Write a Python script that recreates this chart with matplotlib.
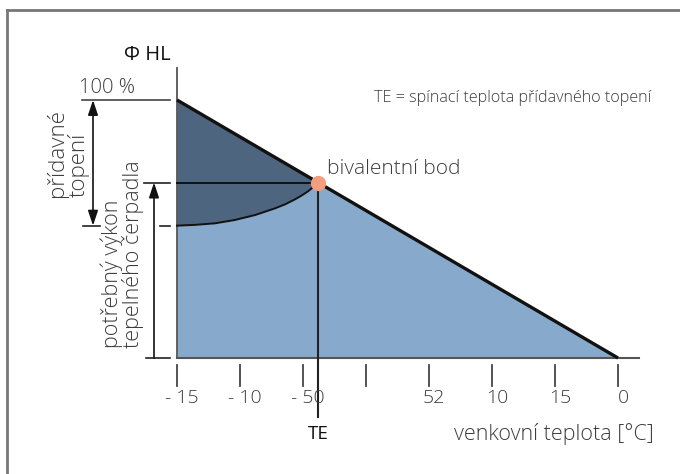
import matplotlib
matplotlib.use("Agg")
import matplotlib.pyplot as plt
import numpy as np

plt.rcParams['font.family'] = ['Open Sans', 'DejaVu Sans']

# -- data --
temps = [-15, -10, -5, 0, 5, 10, 15, 20]
tick_labels = ["- 15", "- 10", "- 50", "", "52", "10", "15", "0"]
load_x = [-15, 20]            # heating load line (%)
load_y = [100, 0]
# heat pump output curve
hp_x = [-15, -13.57, -11.98, -10.40, -8.81, -7.22, -6.4, -5.63, -5.1, -4.60, -4.2, -3.8]
hp_y = [51.3, 51.6, 52.2, 53.5, 55.4, 58.0, 59.6, 61.5, 63.0, 64.6, 66.2, 68.0]
biv_x, biv_y = -3.8, 68.0

W, H = 680, 474
dark = "#4d657e"
light = "#86a9cc"
txt = "#3c3c3c"

# pixel -> data helpers (layout only)
def px(p):
    return -15 + (p - 177) * 35 / 441

def py(p):
    return (358 - p) * 100 / 258

fig = plt.figure(figsize=(W / 100, H / 100), dpi=100)
ax = fig.add_axes([0, 0, 1, 1])
ax.set_xlim(px(0), px(W))
ax.set_ylim(py(H), py(0))
ax.axis("off")

# frame
ax.plot([px(7), px(W)], [py(10), py(10)], color="#777777", lw=2)
ax.plot([px(7), px(7)], [py(10), py(H)], color="#777777", lw=2)

# fills
load_at_hp = np.interp(hp_x, load_x, load_y)
ax.fill_between(hp_x, hp_y, load_at_hp, color=dark, lw=0)
fx = hp_x + [load_x[1]]
fy = hp_y + [0]
ax.fill_between(fx, 0, fy, color=light, lw=0)

# axes lines
ax.plot([-15, -15], [0, py(68)], color="#555555", lw=1.3)
ax.plot([-15, px(639)], [0, 0], color="#555555", lw=1.5)

# curves
ax.plot(load_x, load_y, color="#111111", lw=2.4, solid_capstyle="butt")
ax.plot(hp_x, hp_y, color="#111111", lw=1.4)
ax.plot([-15, biv_x], [biv_y, biv_y], color="#111111", lw=1.4)
ax.plot([biv_x, biv_x], [biv_y, py(417)], color="#222222", lw=1.5)
ax.plot(biv_x, biv_y, "o", color="#f49d7f", ms=10, zorder=5)

# ticks
for t, lab in zip(temps, tick_labels):
    ax.plot([t, t], [py(365), py(386)], color="#444444", lw=1.3)
    ax.text(t + px(182) - px(177), py(398), lab, ha="center", va="center",
            fontsize=14, color=txt, fontweight="light")

ax.text(biv_x, py(434), "TE", ha="center", va="center", fontsize=13.5,
        color="#111111", fontweight="medium")
ax.text(px(654), py(434), "venkovní teplota [°C]", ha="right", va="center",
        fontsize=15.5, color=txt, fontweight="light")
ax.text(px(327), py(169), "bivalentní bod", ha="left", va="center",
        fontsize=15, color=txt, fontweight="light")
ax.text(px(651), py(98), "TE = spínací teplota přídavného topení", ha="right",
        va="center", fontsize=11.6, color=txt, fontweight="light")
ax.text(px(171), py(55), "Φ HL", ha="right", va="center", fontsize=14.5,
        color="#111111")
ax.text(px(79), py(88), "100 %", ha="left", va="center", fontsize=14.5,
        color=txt, fontweight="light")

# left dimension lines
ax.plot([px(82), px(170)], [100, 100], color="#444444", lw=1.2)
ax.plot([px(83), px(100)], [hp_y[0], hp_y[0]], color="#222222", lw=1.2)
ax.plot([px(160), px(170)], [hp_y[0], hp_y[0]], color="#222222", lw=1.2)
ax.plot([px(144), px(170)], [biv_y, biv_y], color="#222222", lw=1.2)
ax.plot([px(146), px(170)], [0, 0], color="#222222", lw=1.2)

ax.annotate("", xy=(px(93), 100), xytext=(px(93), hp_y[0]),
            arrowprops=dict(arrowstyle="<|-|>,head_length=0.9,head_width=0.3",
                            color="#111111", lw=1.2, shrinkA=0, shrinkB=0))
ax.annotate("", xy=(px(154), biv_y), xytext=(px(154), 0),
            arrowprops=dict(arrowstyle="-|>,head_length=0.9,head_width=0.3",
                            color="#111111", lw=1.2, shrinkA=0, shrinkB=0))

ax.text(px(68), py(197), "přídavné\ntopení", rotation=90, ha="left",
        va="center", multialignment="left", fontsize=16, color=txt,
        fontweight="light", linespacing=0.95, rotation_mode="anchor")
ax.text(px(122), py(348), "potřebný výkon\ntepelného čerpadla", rotation=90,
        ha="left", va="center", multialignment="left", fontsize=15.5,
        color=txt, fontweight="light", linespacing=0.95,
        rotation_mode="anchor")

fig.savefig("out.png", dpi=100)
